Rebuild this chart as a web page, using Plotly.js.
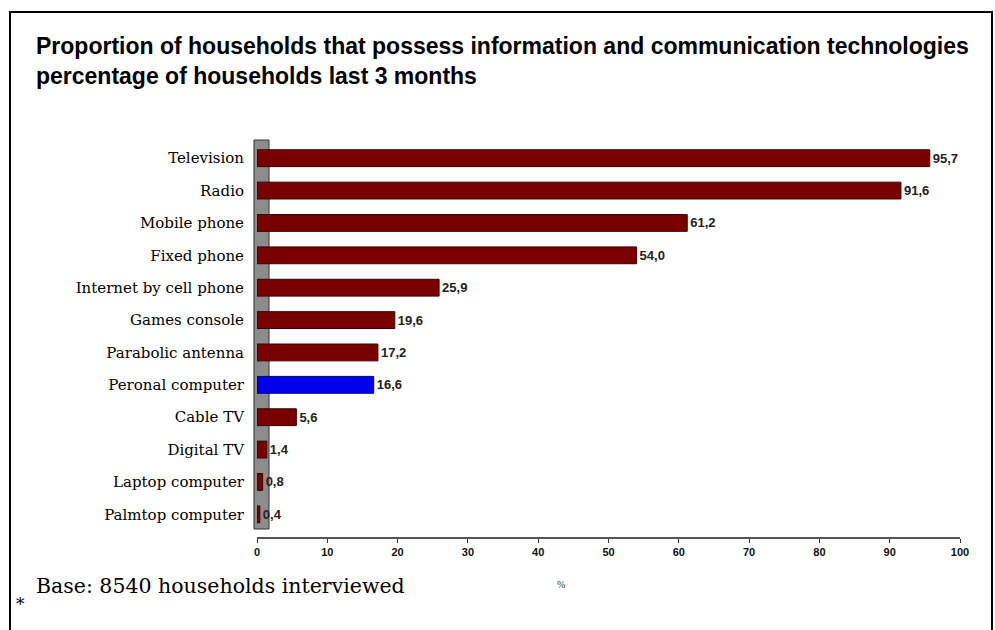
<!DOCTYPE html>
<html>
<head>
<meta charset="utf-8">
<script src="https://cdn.plot.ly/plotly-3.0.1.min.js"></script>
<style>
html,body{margin:0;padding:0;background:#fff;}
#chart{width:995px;height:630px;}
</style>
</head>
<body>
<div id="chart"></div>
<script>
const categories = ["Television","Radio","Mobile phone","Fixed phone","Internet by cell phone","Games console","Parabolic antenna","Peronal computer","Cable TV","Digital TV","Laptop computer","Palmtop computer"];
const values = [95.7, 91.6, 61.2, 54.0, 25.9, 19.6, 17.2, 16.6, 5.6, 1.4, 0.8, 0.4];
const highlight = "Peronal computer";
const xTicks = [0,10,20,30,40,50,60,70,80,90,100];

const colors = categories.map(c => c === highlight ? "#0000ee" : "#7a0000");
const lineColors = categories.map(c => c === highlight ? "#00008a" : "#3a0000");
const labels = values.map(v => v.toFixed(1).replace(".", ","));

// pixel helpers for decorations (plot area: x 257..960, y 142..537)
const L = 257, R = 960, T = 142, B = 537;
const px = x => (x - L) / (R - L);
const py = y => (B - y) / (B - T);

const trace = {
  type: "bar",
  orientation: "h",
  y: categories,
  x: values,
  width: 0.52,
  marker: {color: colors, line: {color: lineColors, width: 1}},
  text: labels,
  textposition: "outside",
  cliponaxis: false,
  textfont: {family: "Liberation Sans, Arial, sans-serif", size: 13, color: "#222", weight: "bold"},
  hoverinfo: "x+y"
};

const layout = {
  width: 995, height: 630,
  margin: {l: L, r: 995 - R, t: T, b: 630 - B},
  paper_bgcolor: "#fff", plot_bgcolor: "rgba(0,0,0,0)",
  showlegend: false,
  xaxis: {
    range: [0, 100],
    tickvals: xTicks,
    ticktext: xTicks.map(String),
    showgrid: false, zeroline: false,
    showline: true, linecolor: "#555", linewidth: 2,
    ticks: "outside", ticklen: 4, tickcolor: "#333",
    tickfont: {family: "Liberation Sans, Arial, sans-serif", size: 11, color: "#111", weight: "bold"},
    fixedrange: true
  },
  yaxis: {
    type: "category",
    range: [11.7, -0.5],
    showgrid: false, zeroline: false, showline: false,
    ticks: "", ticklabelstandoff: 12,
    tickfont: {family: "DejaVu Serif, Liberation Serif, serif", size: 15, color: "#000"},
    fixedrange: true
  },
  shapes: [
    // frame
    {type: "rect", xref: "paper", yref: "paper", x0: px(10), x1: px(992), y0: py(640), y1: py(12),
     line: {color: "#000", width: 2}, fillcolor: "rgba(0,0,0,0)", layer: "below"},
    // 3D wall
    {type: "rect", xref: "paper", yref: "paper", x0: px(254), x1: px(269), y0: py(529), y1: py(140),
     line: {color: "#333", width: 1}, fillcolor: "#8c8c8c", layer: "below"}
  ],
  annotations: [
    {xref: "paper", yref: "paper", x: px(34), y: py(46), xanchor: "left", yanchor: "middle", showarrow: false,
     text: "Proportion of households that possess information and communication technologies",
     font: {family: "Liberation Sans, Arial, sans-serif", size: 23, color: "#000", weight: "bold"}},
    {xref: "paper", yref: "paper", x: px(34), y: py(76), xanchor: "left", yanchor: "middle", showarrow: false,
     text: "percentage of households last 3 months",
     font: {family: "Liberation Sans, Arial, sans-serif", size: 23, color: "#000", weight: "bold"}},
    {xref: "paper", yref: "paper", x: px(34), y: py(586), xanchor: "left", yanchor: "middle", showarrow: false,
     text: "Base: 8540 households interviewed",
     font: {family: "DejaVu Serif, Liberation Serif, serif", size: 20.5, color: "#000"}},
    {xref: "paper", yref: "paper", x: px(20), y: py(604), xanchor: "center", yanchor: "middle", showarrow: false,
     text: "*", font: {family: "DejaVu Serif, Liberation Serif, serif", size: 17, color: "#000"}},
    {xref: "paper", yref: "paper", x: px(561), y: py(584), xanchor: "center", yanchor: "middle", showarrow: false,
     text: "%", font: {family: "Liberation Serif, Times New Roman, serif", size: 10, color: "#333"}}
  ]
};

Plotly.newPlot("chart", [trace], layout, {displayModeBar: false, staticPlot: true});
</script>
</body>
</html>
